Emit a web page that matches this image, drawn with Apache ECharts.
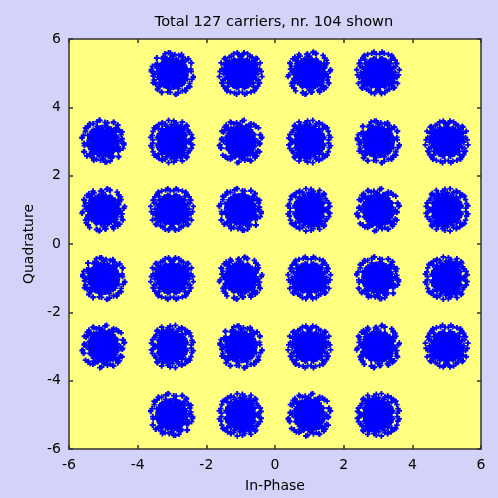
<!DOCTYPE html>
<html>
<head>
<meta charset="utf-8">
<script src="https://cdn.jsdelivr.net/npm/echarts@6/dist/echarts.min.js"></script>
<style>
  html, body { margin: 0; padding: 0; background: #d3d3fa; }
  #chart { width: 498px; height: 498px; }
</style>
</head>
<body>
<div id="chart"></div>
<script>
// 32-QAM symbol positions (in-phase, quadrature)
const symbolI = [-3, -1, 1, 3,  -5, -3, -1, 1, 3, 5,  -5, -3, -1, 1, 3, 5,
                 -5, -3, -1, 1, 3, 5,  -5, -3, -1, 1, 3, 5,  -3, -1, 1, 3];
const symbolQ = [ 5,  5, 5, 5,   3,  3,  3, 3, 3, 3,   1,  1,  1, 1, 1, 1,
                 -1, -1, -1,-1,-1,-1,  -3, -3, -3,-3,-3,-3,  -5, -5,-5,-5];

// Received-sample scatter around each symbol (channel noise)
const noiseI = [
  0.02,-0.11,0.15,-0.04,0.21,-0.19,0.07,-0.25,0.12,0.28,-0.08,0.18,-0.31,0.05,-0.14,0.24,-0.02,0.10,-0.22,0.33,
  -0.17,0.01,0.13,-0.35,0.26,-0.06,0.17,-0.28,0.36,-0.12,0.08,-0.24,0.30,-0.39,0.04,0.20,-0.16,0.41,-0.03,0.11,
  -0.09,0.27,-0.21,0.14,-0.33,0.06,-0.27,0.22,-0.01,0.38,-0.15,0.09,-0.37,0.19,-0.05,0.31,-0.23,0.03,-0.13,0.25,
  -0.30,0.16,-0.07,0.34,-0.19,0.00,0.23,-0.26,0.12,-0.41,0.29,-0.10,0.07,-0.34,0.18,-0.02,0.43,-0.20,0.14,-0.29,
  0.05,0.32,-0.12,0.21,-0.44,0.10,-0.06,0.26,-0.18,0.37,-0.24,0.02,0.16,-0.36,0.08,-0.15,0.28,-0.04,0.35,-0.27,
  0.55,-0.52,0.18,-0.10,0.48,-0.45,0.50,-0.42,0.62,-0.60,0.08,-0.30,0.40,-0.55,0.27,-0.20,0.57,-0.48,0.45,0.12,
  -0.08,0.30,-0.32,0.11,-0.16,0.04,0.22,-0.11,0.13,-0.23,0.19,-0.01,0.09,-0.18,0.24,-0.07,0.15,-0.26,0.06,-0.14,
  0.44,-0.38,0.33,-0.50,0.52,-0.05,0.00,0.39,-0.43,0.47
];
const noiseQ = [
  -0.05,0.08,0.12,-0.18,-0.03,-0.09,0.22,0.14,-0.21,0.06,0.31,-0.27,-0.02,0.01,-0.26,0.19,0.12,-0.10,0.24,-0.14,
  0.03,-0.33,0.34,-0.17,-0.32,-0.12,0.02,0.29,0.23,0.19,-0.26,-0.31,-0.20,0.07,0.41,0.27,-0.38,-0.04,0.25,0.09,
  -0.22,-0.11,0.16,0.30,0.21,-0.39,-0.15,-0.07,0.36,0.13,0.11,0.18,-0.28,-0.19,-0.01,0.28,-0.36,0.20,-0.08,-0.24,
  0.04,0.37,0.15,-0.29,0.33,-0.16,0.05,-0.04,0.26,-0.12,0.17,-0.34,-0.13,0.22,-0.06,0.10,0.09,0.40,-0.17,-0.21,
  0.29,0.34,-0.43,-0.37,0.15,0.06,0.38,-0.25,-0.02,-0.09,0.32,-0.18,0.14,0.01,-0.40,0.24,0.27,-0.30,0.21,0.16,
  0.12,-0.20,-0.58,0.60,0.42,0.44,-0.38,-0.47,-0.10,0.05,0.55,-0.55,-0.52,-0.28,0.50,0.57,0.30,0.25,-0.18,-0.62,
  0.03,-0.07,-0.05,0.23,0.14,-0.20,0.01,-0.28,0.16,0.06,-0.13,0.00,0.32,0.27,0.08,-0.16,-0.36,0.10,0.18,-0.01,
  -0.44,-0.40,0.47,-0.02,-0.30,-0.56,0.50,0.36,0.28,0.06
];

// Noise pattern placed around a symbol under one of eight reflections/rotations
function placePattern(k, m, out) {
  for (let j = 0; j < noiseI.length; j++) {
    let a = noiseI[j], b = noiseQ[j];
    if (m & 1) { a = -a; }
    if (m & 2) { b = -b; }
    if (m & 4) { const t = a; a = b; b = t; }
    out.push([symbolI[k] + a, symbolQ[k] + b]);
  }
}

const received = [];
for (let k = 0; k < symbolI.length; k++) {
  placePattern(k, k % 8, received);
  placePattern(k, (k + 3) % 8 ^ 4, received);
}

const tickVals = [-6, -4, -2, 0, 2, 4, 6];
const titleText = 'Total 127 carriers, nr. 104 shown';
const xName = 'In-Phase';
const yName = 'Quadrature';

const font = 'DejaVu Sans, Verdana, sans-serif';
const axisLineStyle = { color: '#333', width: 1.5 };

const chart = echarts.init(document.getElementById('chart'), null, { renderer: 'canvas' });

// "+" point marker, arms one third of its width
const plusPath = 'path://M2,0h2v2h2v2h-2v2h-2v-2h-2v-2h2z';

function baseAxis(extra) {
  return Object.assign({
    type: 'value', min: -6, max: 6, interval: 2,
    axisLine: { show: true, onZero: false, lineStyle: axisLineStyle },
    axisTick: { show: true, inside: true, length: 4, lineStyle: axisLineStyle },
    splitLine: { show: false },
  }, extra);
}

chart.setOption({
  backgroundColor: '#d3d3fa',
  animation: false,
  title: {
    text: titleText,
    left: 269, top: 10, textAlign: 'center',
    textStyle: { fontFamily: font, fontSize: 14.6, fontWeight: 'normal', color: '#000' }
  },
  grid: {
    left: 69, top: 39, width: 412, height: 414,
    show: true, backgroundColor: '#ffff80', borderWidth: 0
  },
  xAxis: [
    baseAxis({
      position: 'bottom',
      name: xName, nameLocation: 'middle', nameGap: 30,
      nameTextStyle: { fontFamily: font, fontSize: 14, color: '#000' },
      axisLabel: { show: true, margin: 9, fontFamily: font, fontSize: 14, color: '#000',
                   formatter: v => tickVals.indexOf(v) >= 0 ? String(v) : '' }
    }),
    baseAxis({ position: 'top', axisLabel: { show: false } })
  ],
  yAxis: [
    baseAxis({
      position: 'left',
      name: yName, nameLocation: 'middle', nameGap: 33,
      nameTextStyle: { fontFamily: font, fontSize: 14, color: '#000' },
      axisLabel: { show: true, margin: 8, fontFamily: font, fontSize: 14, color: '#000',
                   formatter: v => tickVals.indexOf(v) >= 0 ? String(v) : '' }
    }),
    baseAxis({ position: 'right', axisLabel: { show: false } })
  ],
  series: [{
    type: 'scatter',
    xAxisIndex: 0, yAxisIndex: 0,
    data: received,
    large: false,
    symbol: plusPath,
    symbolSize: 5.5,
    itemStyle: { color: '#0000ff', borderColor: '#0000ff', borderWidth: 0, opacity: 1 },
    silent: true
  }]
});
</script>
</body>
</html>
